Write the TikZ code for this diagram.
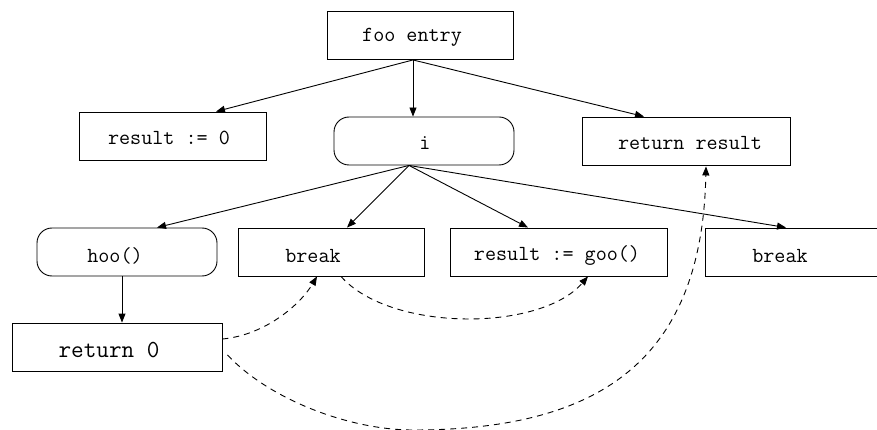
\documentclass[tikz,border=0pt]{standalone}
\usetikzlibrary{arrows.meta}
\begin{document}
\begin{tikzpicture}[x=1pt,y=-1pt,
  box/.style={draw, line width=0.9pt, rectangle, minimum height=48pt, inner sep=0pt},
  rbox/.style={box, rounded corners=15pt},
  lbl/.style={inner sep=0pt, font=\fontsize{21.5}{24}\selectfont\ttfamily},
  biglbl/.style={inner sep=0pt, font=\fontsize{24.5}{28}\selectfont\ttfamily},
  edge/.style={line width=0.9pt, -{Triangle[length=9pt,width=7pt]}},
  jump/.style={edge, dash pattern=on 6pt off 5pt}]
\useasboundingbox (0,0) rectangle (877,430);
\clip (0,0) rectangle (877,430);

% boxes
\node[box,  minimum width=186pt] (foo)    at (420,35.5) {};
\node[box,  minimum width=187pt] (res0)   at (172.5,136) {};
\node[rbox, minimum width=180pt] (i)      at (424,141) {};
\node[box,  minimum width=208pt] (retres) at (686,141) {};
\node[rbox, minimum width=180pt] (hoo)    at (127,252) {};
\node[box,  minimum width=186pt] (brk1)   at (331,252) {};
\node[box,  minimum width=217pt] (goo)    at (558.5,252) {};
\node[box,  minimum width=190pt] (brk2)   at (800,252) {};
\node[box,  minimum width=210pt] (ret0)   at (117,347) {};

% labels
\node[lbl] (tfoo)    at (412,37)  {foo entry};
\node[lbl] (tres0)   at (169,138) {result := 0};
\node[lbl] (ti)      at (425,143) {i};
\node[lbl] (tretres) at (690,143) {return result};
\node[lbl] (thoo)    at (115,256) {hoo()};
\node[lbl] (tbrk1)   at (313,256) {break};
\node[lbl] (tgoo)    at (557,256) {result := goo()};
\node[lbl] (tbrk2)   at (780,256) {break};
\node[biglbl] (tret0) at (109,350) {return 0};

% control-flow edges
\draw[edge] ([xshift=-7pt]foo.south) -- ([xshift=43.5pt]res0.north);
\draw[edge] ([xshift=-7pt]foo.south) -- ([xshift=-11pt]i.north);
\draw[edge] ([xshift=-7pt]foo.south) -- ([xshift=-42pt]retres.north);
\draw[edge] ([xshift=-15pt]i.south) -- ([xshift=30pt]hoo.north);
\draw[edge] ([xshift=-15pt]i.south) -- ([xshift=16pt]brk1.north);
\draw[edge] ([xshift=-15pt]i.south) -- ([xshift=-30.5pt]goo.north);
\draw[edge] ([xshift=-15pt]i.south) -- ([xshift=-14pt]brk2.north);
\draw[edge] ([xshift=-5pt]hoo.south) -- ([xshift=5pt]ret0.north);

% jump edges
\draw[jump] ([yshift=8pt]ret0.east) .. controls (265,335) and (300,305) .. ([xshift=-14pt]brk1.south);
\draw[jump] ([xshift=10pt]brk1.south) .. controls (390,332) and (540,332) .. ([xshift=29.5pt]goo.south);
\draw[jump] ([yshift=-8pt, xshift=5pt]ret0.east) .. controls (270,400) and (350,430) .. (413,430)
  .. controls (600,430) and (702,360) .. ([xshift=20pt, yshift=-1pt]retres.south);
\end{tikzpicture}
\end{document}
